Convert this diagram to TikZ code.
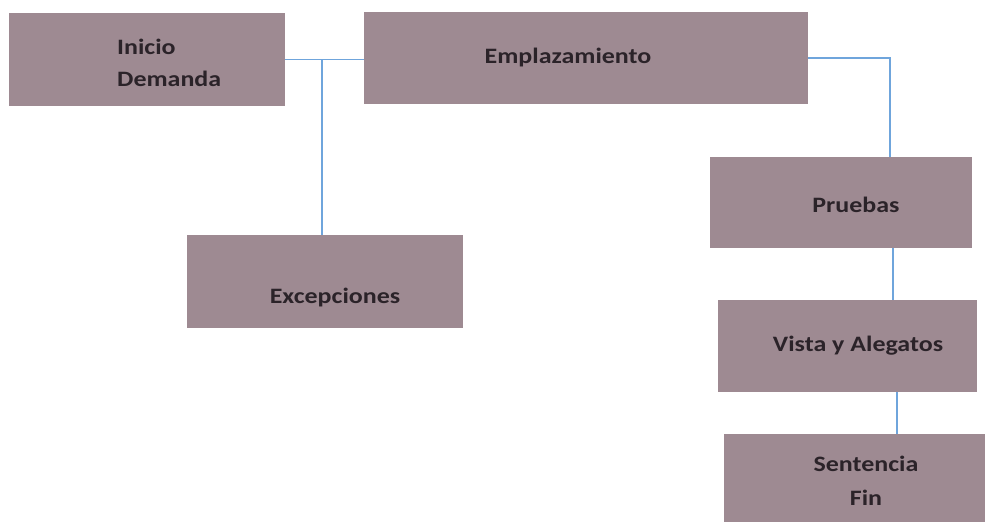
\documentclass[tikz,border=0pt]{standalone}
\usepackage{fontspec}
\setmainfont{Carlito}[FakeStretch=1.18]
\definecolor{boxfill}{HTML}{9E8A92}
\definecolor{boxtext}{HTML}{2B2329}
\definecolor{linkblue}{HTML}{6FA5DC}
\begin{document}
\begin{tikzpicture}[x=1pt,y=-1pt,
  box/.style={fill=boxfill,draw=none,inner sep=0pt,outer sep=0pt},
  lbl/.style={text=boxtext,font=\fontsize{22}{32}\selectfont\bfseries,inner sep=0pt},
  link/.style={draw=linkblue,line width=1.4pt}]
\useasboundingbox (0,0) rectangle (988,522);
% boxes
\node[box,minimum width=276pt,minimum height=93pt] (ini) at (147,59.5) {};
\node[box,minimum width=444pt,minimum height=92pt] (emp) at (586,58) {};
\node[box,minimum width=276pt,minimum height=93pt] (exc) at (325,281.5) {};
\node[box,minimum width=262pt,minimum height=91pt] (pru) at (841,202.5) {};
\node[box,minimum width=259pt,minimum height=92pt] (vis) at (847.5,346) {};
\node[box,minimum width=261pt,minimum height=90pt] (sen) at (854.5,479) {};
% labels
\node[lbl,anchor=west,align=left] (tini) at (117,63) {Inicio\\Demanda};
\node[lbl] (temp) at (568,58) {Emplazamiento};
\node[lbl] (texc) at (335,298) {Excepciones};
\node[lbl] (tpru) at (856,205) {Pruebas};
\node[lbl] (tvis) at (858,346) {Vista y Alegatos};
\node[lbl,align=center,font=\fontsize{22}{34}\selectfont\bfseries] (tsen) at (866,481) {Sentencia\\Fin};
% connectors
\draw[link] (ini.east) -- (ini.east -| emp.west);
\draw[link] ([xshift=-3pt]exc.north) -- ([xshift=-3pt]exc.north |- ini.east);
\draw[link] (emp.east) -| ([xshift=49pt]pru.north);
\draw[link] ([xshift=52pt]pru.south) -- ([xshift=45.5pt]vis.north);
\draw[link] ([xshift=49.5pt]vis.south) -- ([xshift=42.5pt]sen.north);
\end{tikzpicture}
\end{document}
